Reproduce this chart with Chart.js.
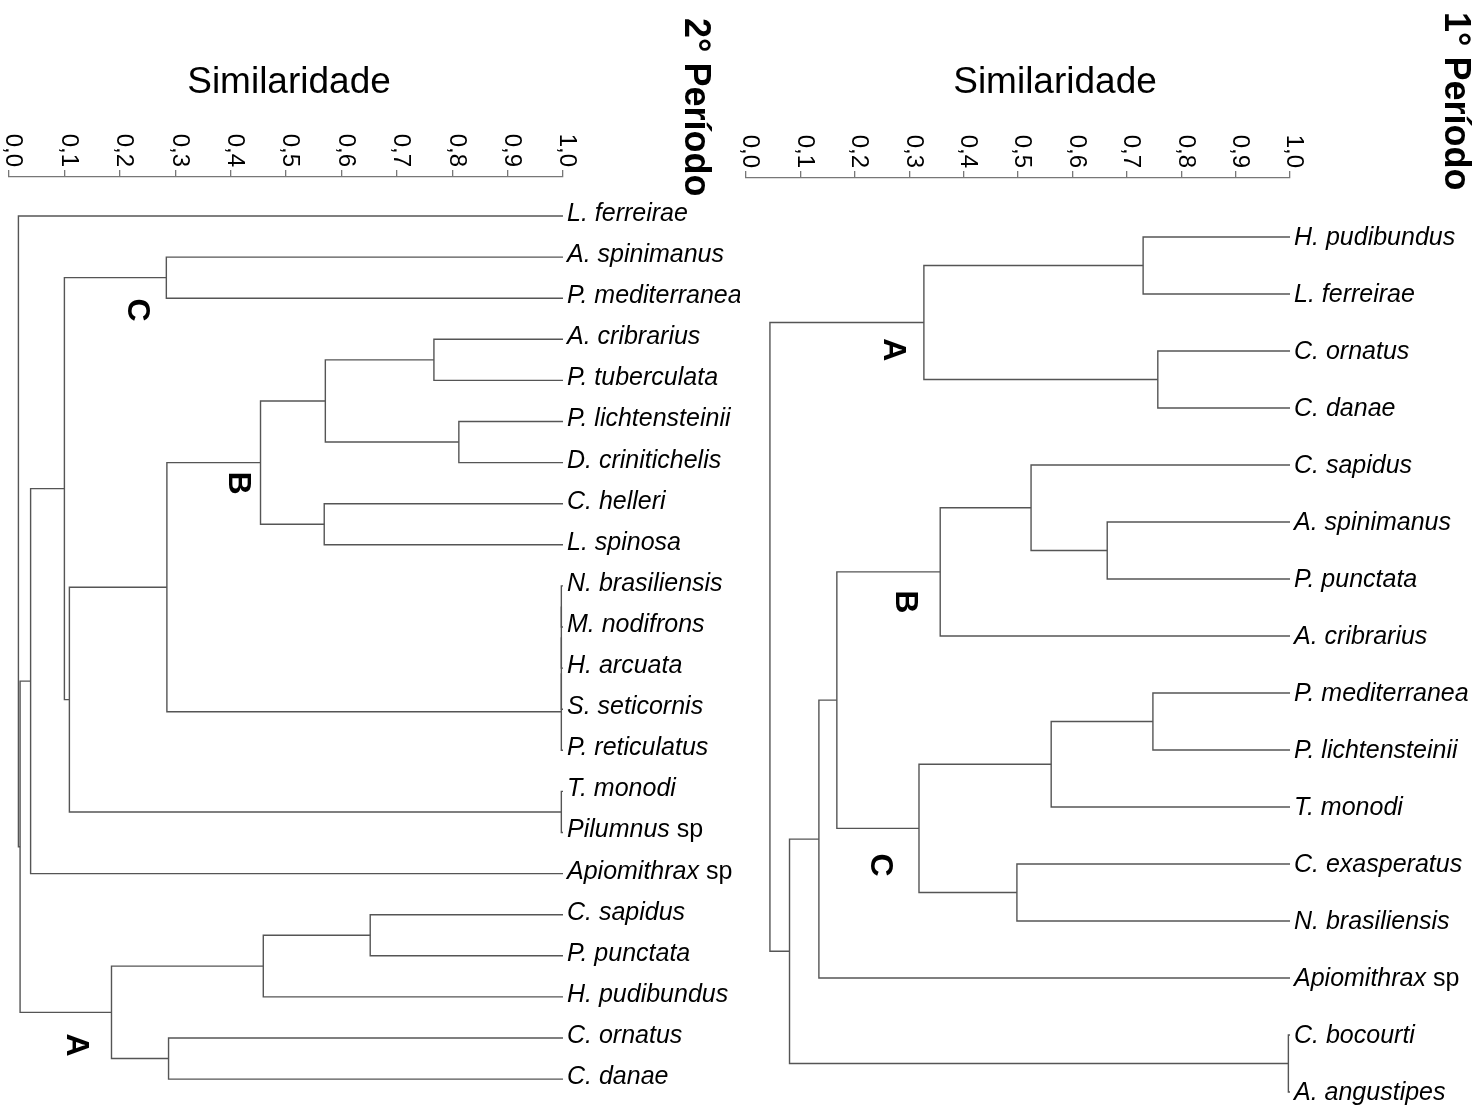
<!DOCTYPE html>
<html>
<head>
<meta charset="utf-8">
<script src="https://cdn.jsdelivr.net/npm/chart.js@4.4.0/dist/chart.umd.min.js"></script>
<style>
  html, body { margin: 0; padding: 0; background: #fff; }
  #wrap { position: relative; width: 1482px; height: 1106px; overflow: hidden; }
  canvas { position: absolute; top: 0; }
  #left { left: 0; }
  #right { left: 740px; }
</style>
</head>
<body>
<div id="wrap">
  <canvas id="left" width="740" height="1106"></canvas>
  <canvas id="right" width="742" height="1106"></canvas>
</div>
<script>
// similarity axis
const tickValues = [0, 0.1, 0.2, 0.3, 0.4, 0.5, 0.6, 0.7, 0.8, 0.9, 1.0];
const tickLabels = ['0,0', '0,1', '0,2', '0,3', '0,4', '0,5', '0,6', '0,7', '0,8', '0,9', '1,0'];

// 2nd period: leaves top to bottom, merges as [childA, childB, similarity]
// (child index < leaves.length is a leaf, otherwise an earlier merge)
const leaves2 = ['L. ferreirae', 'A. spinimanus', 'P. mediterranea', 'A. cribrarius', 'P. tuberculata',
  'P. lichtensteinii', 'D. crinitichelis', 'C. helleri', 'L. spinosa', 'N. brasiliensis',
  'M. nodifrons', 'H. arcuata', 'S. seticornis', 'P. reticulatus', 'T. monodi', 'Pilumnus sp',
  'Apiomithrax sp', 'C. sapidus', 'P. punctata', 'H. pudibundus', 'C. ornatus', 'C. danae'];
const merges2 = [
  [1, 2, 0.284], [3, 4, 0.767], [5, 6, 0.812], [23, 24, 0.571], [7, 8, 0.569],
  [25, 26, 0.454], [9, 10, 0.997], [28, 11, 0.997], [29, 12, 0.997], [30, 13, 0.997],
  [27, 31, 0.285], [14, 15, 0.997], [32, 33, 0.109], [22, 34, 0.100], [35, 16, 0.039],
  [17, 18, 0.652], [37, 19, 0.459], [20, 21, 0.288], [38, 39, 0.185], [36, 40, 0.020],
  [0, 41, 0.017]
];
const groups2 = [['C', 0.231, 2.29], ['B', 0.413, 6.5], ['A', 0.121, 20.17]];

// 1st period
const leaves1 = ['H. pudibundus', 'L. ferreirae', 'C. ornatus', 'C. danae', 'C. sapidus',
  'A. spinimanus', 'P. punctata', 'A. cribrarius', 'P. mediterranea', 'P. lichtensteinii',
  'T. monodi', 'C. exasperatus', 'N. brasiliensis', 'Apiomithrax sp', 'C. bocourti', 'A. angustipes'];
const merges1 = [
  [0, 1, 0.730], [2, 3, 0.757], [16, 17, 0.327], [5, 6, 0.664], [4, 19, 0.524],
  [20, 7, 0.357], [8, 9, 0.748], [22, 10, 0.561], [11, 12, 0.498], [23, 24, 0.318],
  [21, 25, 0.167], [26, 13, 0.134], [14, 15, 0.997], [27, 28, 0.080], [18, 29, 0.044]
];
const groups1 = [['A', 0.270, 1.98], ['B', 0.292, 6.4], ['C', 0.246, 11.02]];

const FONT = '"Liberation Sans", Arial, Helvetica, sans-serif';

function buildSegments(leaves, merges) {
  const n = leaves.length;
  const pos = [], hgt = [];
  leaves.forEach((_, i) => { pos[i] = i; hgt[i] = 1; });
  const segs = [];
  merges.forEach(([a, b, h], k) => {
    segs.push([
      { x: hgt[a], y: pos[a] }, { x: h, y: pos[a] },
      { x: h, y: pos[b] }, { x: hgt[b], y: pos[b] }
    ]);
    pos[n + k] = (pos[a] + pos[b]) / 2;
    hgt[n + k] = h;
  });
  return segs;
}

function rotText(ctx, text, x, y, align) {
  ctx.save();
  ctx.translate(x, y);
  ctx.rotate(Math.PI / 2);
  ctx.textAlign = align;
  ctx.fillText(text, 0, 0);
  ctx.restore();
}

const textPlugin = {
  id: 'dendroText',
  afterDraw(chart) {
    const cfg = chart.options.plugins.dendroText;
    const ctx = chart.ctx, xs = chart.scales.x, ys = chart.scales.y;
    ctx.save();
    ctx.fillStyle = '#000';
    ctx.textBaseline = 'middle';

    // rotated tick labels
    ctx.font = '24px ' + FONT;
    tickValues.forEach((v, i) => {
      rotText(ctx, tickLabels[i], xs.getPixelForValue(v) + 4, xs.bottom - 10, 'right');
    });

    // axis title and period
    ctx.font = '37px ' + FONT;
    ctx.textAlign = 'center';
    ctx.fillText('Similaridade', cfg.titleX, cfg.titleY);
    ctx.font = 'bold 36px ' + FONT;
    rotText(ctx, cfg.period, cfg.periodX, cfg.periodY, 'left');

    // leaf labels
    const lx = xs.getPixelForValue(1) + 4;
    ctx.textAlign = 'left';
    cfg.leaves.forEach((name, i) => {
      const y = ys.getPixelForValue(i) + cfg.labelDy;
      let main = name, rest = '';
      if (name.endsWith(' sp')) { main = name.slice(0, -3); rest = ' sp'; }
      ctx.font = 'italic 25px ' + FONT;
      ctx.fillText(main, lx, y);
      if (rest) {
        const w = ctx.measureText(main).width;
        ctx.font = '25px ' + FONT;
        ctx.fillText(rest, lx + w, y);
      }
    });

    // cluster letters
    ctx.font = 'bold 32px ' + FONT;
    cfg.groups.forEach(([g, sx, sy]) => {
      rotText(ctx, g, xs.getPixelForValue(sx), ys.getPixelForValue(sy), 'center');
    });
    ctx.restore();
  }
};

function makeChart(id, leaves, merges, groups, cfg) {
  const segs = buildSegments(leaves, merges);
  return new Chart(document.getElementById(id), {
    type: 'scatter',
    data: {
      datasets: segs.map(s => ({
        data: s, showLine: true, borderColor: '#555', borderWidth: 1.4,
        pointRadius: 0, tension: 0, fill: false, clip: false
      }))
    },
    options: {
      responsive: false,
      animation: false,
      devicePixelRatio: 1,
      layout: { padding: cfg.padding },
      plugins: {
        legend: { display: false },
        tooltip: { enabled: false },
        dendroText: Object.assign({ leaves, groups }, cfg)
      },
      scales: {
        x: {
          type: 'linear', position: 'top', min: 0, max: 1,
          ticks: { display: false, stepSize: 0.1 },
          grid: { drawOnChartArea: false, drawTicks: true, tickLength: 7, color: '#777', lineWidth: 1.3 },
          border: { display: true, color: '#777', width: 1.3 },
          afterFit: s => { s.height = cfg.axisY; }
        },
        y: { type: 'linear', display: false, reverse: true, min: cfg.yMin, max: cfg.yMax }
      }
    },
    plugins: [textPlugin]
  });
}

makeChart('left', leaves2, merges2, groups2, {
  padding: { left: 9, right: 177, top: 0, bottom: 6 },
  axisY: 177, yMin: -0.949, yMax: 21.508, labelDy: -2,
  titleX: 289, titleY: 83, period: '2° Período', periodX: 695, periodY: 18
});
makeChart('right', leaves1, merges1, groups1, {
  padding: { left: 6, right: 192, top: 0, bottom: 4 },
  axisY: 178, yMin: -1.035, yMax: 15.175, labelDy: 1,
  titleX: 315, titleY: 83, period: '1° Período', periodX: 715, periodY: 12
});
</script>
</body>
</html>
